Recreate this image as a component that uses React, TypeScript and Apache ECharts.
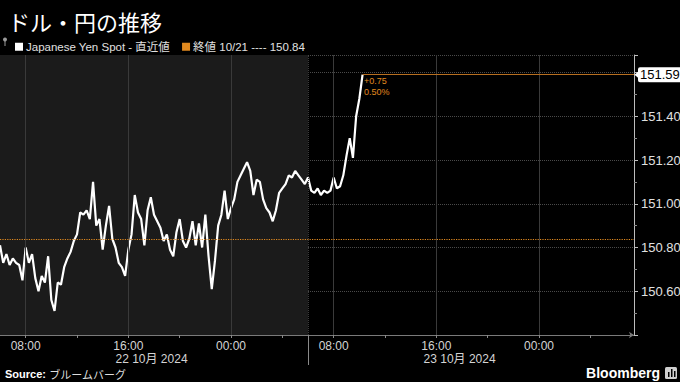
import React, { useEffect, useRef } from "react";
import * as echarts from "echarts";

// ---- data ----
const title = "ドル・円の推移";
const spotName = "Japanese Yen Spot - 直近値";
const prevCloseDate = "10/21";
const prevClose = 150.84;
const startHour = 6; // 22 Oct 06:00
const stepHours = 0.25; // 15-minute samples
const spotValues = [
  150.81, 150.73, 150.77, 150.72, 150.75, 150.73, 150.72, 150.65, 150.80, 150.73,
  150.77, 150.66, 150.60, 150.67, 150.64, 150.76, 150.56, 150.51, 150.64, 150.63,
  150.71, 150.75, 150.78, 150.83, 150.86, 150.96, 150.95, 150.97, 150.93, 151.10,
  150.90, 150.93, 150.79, 150.90, 150.99, 150.84, 150.80, 150.73, 150.71, 150.67,
  150.79, 150.86, 151.04, 150.96, 150.93, 150.81, 150.97, 151.03, 150.95, 150.92,
  150.89, 150.83, 150.86, 150.79, 150.76, 150.87, 150.93, 150.83, 150.80, 150.84,
  150.92, 150.81, 150.91, 150.80, 150.95, 150.76, 150.61, 150.74, 150.90, 150.95,
  151.06, 150.93, 150.98, 151.02, 151.10, 151.13, 151.16, 151.19, 151.15, 151.04,
  151.11, 151.10, 151.02, 150.98, 150.96, 150.92, 150.97, 151.05, 151.07, 151.09,
  151.13, 151.12, 151.15, 151.13, 151.11, 151.09, 151.12, 151.06, 151.05, 151.07,
  151.04, 151.06, 151.05, 151.06, 151.12, 151.07, 151.08, 151.13, 151.22, 151.30,
  151.21, 151.40, 151.48, 151.59,
];
const labelHours = [8, 16, 24, 32, 40, 48];
const minorTickHours = [8, 12, 16, 20, 24, 28, 32, 36, 40, 44, 48, 52];
const dayLabelHours = [15, 39];
const sessionBreakHour = 30;
const firstDay = 22;
const monthYear = "10月 2024";
const xMin = 6;
const xMax = 55.4;
const yMin = 150.4;
const yMax = 151.68;
const yInterval = 0.2;

const ORANGE = "#e0891f";
const ORANGE_LINE = "#b86f20";
const FONT = "'Liberation Sans', 'Noto Sans CJK JP', sans-serif";

export default function App() {
  const ref = useRef<HTMLDivElement>(null);
  useEffect(() => {
    if (!ref.current) return;
    const chart = echarts.init(ref.current, null, { renderer: "svg" });
    const seriesData = spotValues.map((v, i) => [startHour + i * stepHours, v]);
    const last = seriesData[seriesData.length - 1];
    const lastT = last[0] as number;
    const lastV = last[1] as number;
    const chg = lastV - prevClose;
    const pct = (chg / prevClose) * 100;
    const chgText = `${chg >= 0 ? "+" : ""}${chg.toFixed(2)}\n${pct.toFixed(2)}%`;
    const hourFmt = (v: number) => {
      const h = ((Math.round(v) % 24) + 24) % 24;
      return String(h).padStart(2, "0") + ":00";
    };
    const option: any = {
      animation: false,
      backgroundColor: "#000",
      textStyle: { fontFamily: FONT },
      title: {
        text: title,
        left: 3,
        top: 5,
        textStyle: {
          color: "#fff",
          fontSize: 22,
          fontWeight: "normal",
          fontFamily: "'Noto Sans CJK JP', sans-serif",
        },
      },
      legend: {
        left: 10,
        top: 36,
        icon: "rect",
        itemWidth: 8,
        itemHeight: 8,
        itemGap: 12,
        textStyle: { color: "#e0e0e0", fontSize: 11.5, padding: [0, 0, 0, -2] },
        data: [spotName, `終値 ${prevCloseDate} ---- ${prevClose.toFixed(2)}`],
      },
      grid: { left: 0, right: 46, top: 55, bottom: 47, containLabel: false, outerBoundsMode: "none" },
      xAxis: [
        {
          type: "value",
          min: xMin,
          max: xMax,
          z: 1,
          axisLine: {
            show: true,
            lineStyle: { color: "#7a7a7a" },
            symbol: ["none", "arrow"],
            symbolSize: [5, 5],
          },
          axisTick: { show: true, customValues: minorTickHours, length: 3, lineStyle: { color: "#8a8a8a" } },
          axisLabel: {
            customValues: labelHours,
            formatter: hourFmt,
            color: "#d4d4d4",
            fontSize: 12,
            margin: 5,
          },
          splitLine: { show: false },
        },
        {
          type: "value",
          min: xMin,
          max: xMax,
          position: "bottom",
          z: 1,
          axisLine: { show: false },
          axisTick: { show: true, customValues: [sessionBreakHour], length: 30, lineStyle: { color: "#8a8a8a" } },
          axisLabel: {
            customValues: dayLabelHours,
            formatter: (v: number) => `${firstDay + Math.floor(v / 24)} ${monthYear}`,
            color: "#d4d4d4",
            fontSize: 12,
            align: "left",
            margin: 18,
          },
          splitLine: { show: false },
        },
      ],
      yAxis: {
        type: "value",
        position: "right",
        min: yMin,
        max: yMax,
        interval: yInterval,
        z: 1,
        axisLine: { show: true, lineStyle: { color: "#bdbdbd" } },
        axisTick: { show: true, length: 4, lineStyle: { color: "#bdbdbd" } },
        minorTick: { show: true, splitNumber: 2, length: 3, lineStyle: { color: "#8a8a8a" } },
        axisLabel: {
          color: "#e0e0e0",
          fontSize: 13,
          margin: 7,
          formatter: (v: number) => (v < yMin + 0.05 || v > lastV - 0.05 ? "" : v.toFixed(2)),
        },
        splitLine: { show: true, lineStyle: { color: "#4a4a4a", type: "dotted", width: 1 } },
      },
      series: [
        {
          name: "bg",
          type: "line",
          data: [],
          z: 0,
          silent: true,
          markArea: {
            silent: true,
            itemStyle: { color: "#1b1b1b" },
            data: [[{ xAxis: xMin }, { xAxis: sessionBreakHour }]],
          },
        },
        {
          name: "vgrid",
          type: "line",
          data: [],
          z: 1,
          silent: true,
          markLine: {
            silent: true,
            symbol: "none",
            label: { show: false },
            data: [
              ...labelHours.map((h) => ({ xAxis: h, lineStyle: { color: "#3a3a3a", type: "solid", width: 1 } })),
              { xAxis: sessionBreakHour, lineStyle: { color: "#3c3c3c", type: "dotted", width: 1 } },
            ],
          },
        },
        {
          name: `終値 ${prevCloseDate} ---- ${prevClose.toFixed(2)}`,
          type: "line",
          data: [],
          z: 2,
          color: ORANGE,
          itemStyle: { color: ORANGE },
          silent: true,
          markLine: {
            silent: true,
            symbol: "none",
            label: { show: false },
            lineStyle: { color: ORANGE, type: "dotted", width: 1.2 },
            data: [{ yAxis: prevClose }],
          },
        },
        {
          name: spotName,
          type: "line",
          data: seriesData,
          z: 3,
          color: "#ffffff",
          showSymbol: false,
          lineStyle: { color: "#ffffff", width: 2.2 },
          itemStyle: { color: "#ffffff" },
          markLine: {
            silent: true,
            symbol: "none",
            data: [
              [
                {
                  coord: [lastT, lastV],
                  lineStyle: { color: ORANGE_LINE, type: "solid", width: 1 },
                  label: {
                    show: true,
                    position: "end",
                    formatter: lastV.toFixed(2),
                    backgroundColor: "#ffffff",
                    color: "#000",
                    fontSize: 13,
                    padding: [1, 2, 1, 2],
                    borderRadius: 2,
                    distance: 4,
                  },
                },
                { coord: [xMax, lastV] },
              ],
            ],
          },
          markPoint: {
            silent: true,
            data: [
              {
                coord: [lastT, lastV],
                symbol: "rect",
                symbolSize: 1,
                itemStyle: { color: "rgba(0,0,0,0)" },
                label: {
                  show: true,
                  formatter: chgText,
                  position: [2, 1],
                  color: ORANGE,
                  fontSize: 9,
                  lineHeight: 11,
                  align: "left",
                  verticalAlign: "top",
                },
              },
              {
                coord: [xMax, lastV],
                symbol: "triangle",
                symbolRotate: 90,
                symbolSize: [12, 7],
                symbolOffset: [4, 0],
                itemStyle: { color: "#ffffff" },
                label: { show: false },
              },
            ],
          },
        },
      ],
      graphic: [
        { type: "circle", shape: { cx: 5, cy: 39.5, r: 2 }, style: { fill: "#9a9a9a" } },
        { type: "line", shape: { x1: 5, y1: 41, x2: 5, y2: 46 }, style: { stroke: "#9a9a9a", lineWidth: 1 } },
        {
          type: "text",
          left: 5,
          top: 368,
          style: {
            text: "{b|Source:} {n|ブルームバーグ}",
            rich: {
              b: { fill: "#ffffff", fontSize: 11, fontWeight: "bold", fontFamily: FONT },
              n: { fill: "#dddddd", fontSize: 11, fontFamily: "'Noto Sans CJK JP', sans-serif" },
            },
          },
        },
        {
          type: "text",
          right: 20,
          top: 366,
          style: { text: "Bloomberg", fill: "#ffffff", fontSize: 14, fontWeight: "bold", fontFamily: FONT },
        },
        { type: "rect", shape: { x: 665, y: 367, width: 12, height: 12, r: 1.5 }, style: { fill: "#cfcfcf" } },
        { type: "rect", shape: { x: 668, y: 372, width: 1.5, height: 5 }, style: { fill: "#000" } },
        { type: "rect", shape: { x: 671, y: 369, width: 1.5, height: 8 }, style: { fill: "#000" } },
        { type: "rect", shape: { x: 674, y: 371, width: 1.5, height: 6 }, style: { fill: "#000" } },
      ],
    };
    chart.setOption(option);
    return () => chart.dispose();
  }, []);
  return (
    <div
      ref={ref}
      style={{ position: "fixed", left: 0, top: 0, width: 680, height: 382, background: "#000" }}
    />
  );
}
